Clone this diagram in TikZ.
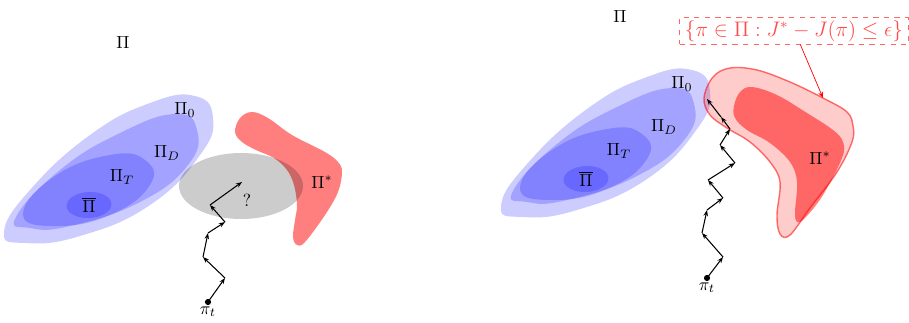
\documentclass[tikz,border=0pt]{standalone}
\usepackage{amsmath,amssymb}
\usetikzlibrary{arrows.meta}

% nested policy classes, drawn once on each side
\newcommand{\policysets}[1]{%
  \fill[classfill] plot[smooth cycle,tension=0.8] coordinates {
    (4,232) (30,190) (90,135) (150,103) (195,96) (213,118) (200,155) (150,205) (80,236) (25,243)};
  \fill[classfill] plot[smooth cycle,tension=0.8] coordinates {
    (16,217) (60,170) (120,133) (175,114) (197,130) (188,165) (140,202) (70,226) (30,228)};
  \fill[classfill] plot[smooth cycle,tension=0.8] coordinates {
    (23,214) (55,176) (110,155) (145,160) (150,185) (110,215) (55,226)};
  \fill[classfill,rotate around={3:(89,205)}] (89,205) ellipse [x radius=22.5, y radius=13];
  \node (all#1) at (123,42) {$\Pi$};
  \node (init#1) at (185,110) {$\Pi_0$};
  \node (data#1) at (167,153) {$\Pi_D$};
  \node (train#1) at (122,177) {$\Pi_T$};
  \node (best#1) at (89,205) {$\overline{\Pi}$};
}

\begin{document}
\begin{tikzpicture}[x=0.02cm,y=-0.02cm,
    classfill/.style={fill=blue,fill opacity=0.2},
    walk/.style={-{Stealth[length=3.5pt,width=2.6pt]},semithick},
    startdot/.style={circle,fill=black,inner sep=0pt,minimum size=3.5pt}]
  \useasboundingbox (0,0) rectangle (909,322);

  % left: search drifts into an unknown region
  \policysets{L}
  \fill[red,fill opacity=0.5] plot[smooth cycle,tension=0.6] coordinates {
    (235,132) (240,118) (252,112) (268,118) (292,135) (325,152) (338,162)
    (342,172) (338,192) (325,215) (305,242) (297,245) (293,237) (295,220)
    (297,205) (294,185) (287,170) (274,158) (256,150) (242,142)};
  \node (optL) at (322,182) {$\Pi^*$};
  \fill[black,fill opacity=0.2] (241,186) ellipse [x radius=62, y radius=33];
  \node (unknown) at (247,200) {?};

  \foreach \x/\y [count=\i] in {208/302,225/278,203/257,208/233,225/222,210/205,242/182}
    \coordinate (wl\i) at (\x,\y);
  \foreach \i [evaluate=\i as \j using int(\i+1)] in {1,...,6}
    \draw[walk] (wl\i) -- (wl\j);
  \node[startdot] (startL) at (wl1) {};
  \node[below=-1pt] (labL) at (wl1) {$\pi_t$};

  % right: search reaches the epsilon-optimal set
  \begin{scope}[shift={(497,-26)}]
    \policysets{R}
  \end{scope}
  \filldraw[fill=red,fill opacity=0.2,draw=red,draw opacity=0.55,line width=0.8pt]
    plot[smooth cycle,tension=0.6] coordinates {
    (704,98) (713,77) (730,68) (757,70) (790,82) (823,98) (847,112) (853,126)
    (852,142) (837,172) (810,208) (790,235) (780,234) (777,215) (780,182)
    (770,162) (750,142) (727,128) (710,115)};
  \fill[red,fill opacity=0.5] plot[smooth cycle,tension=0.6] coordinates {
    (734,106) (740,92) (752,87) (777,95) (807,113) (833,130) (843,142)
    (842,158) (823,195) (805,218) (797,222) (795,212) (797,182) (790,162)
    (770,143) (747,130) (735,118)};
  \node (optR) at (820,158) {$\Pi^*$};

  \node[draw=red!60,dashed,text=red!70,font=\large,inner xsep=3pt,inner ysep=1.5pt] (epsset) at (794,31)
    {$\{\pi\in\Pi : J^* - J(\pi)\le\epsilon\}$};
  \coordinate (epshit) at (823,98);
  \draw[red,-{Stealth[length=3.5pt,width=2.6pt]}] (epsset.-65) -- (epshit);

  \foreach \x/\y [count=\i] in {707/278,723/257,702/233,707/210,723/198,708/180,
      735/163,720/145,730/129,721/117,707/99}
    \coordinate (wr\i) at (\x,\y);
  \foreach \i [evaluate=\i as \j using int(\i+1)] in {1,...,10}
    \draw[walk] (wr\i) -- (wr\j);
  \node[startdot] (startR) at (wr1) {};
  \node[below=-1pt] (labR) at (wr1) {$\pi_t$};
\end{tikzpicture}
\end{document}
